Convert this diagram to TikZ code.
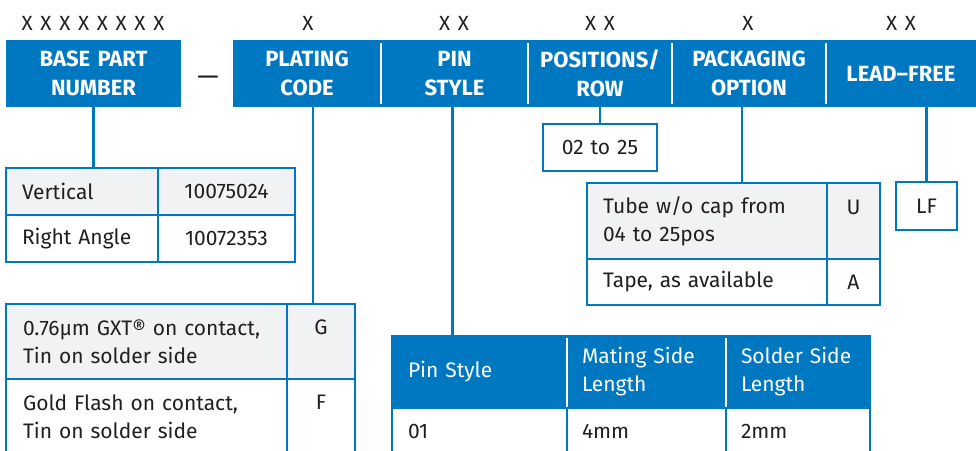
\documentclass[tikz,border=0pt]{standalone}
\usepackage{fontspec}
\setmainfont{Fira Sans}
\definecolor{mblue}{RGB}{0,120,193}
\definecolor{mgray}{RGB}{241,242,244}
\definecolor{mtext}{RGB}{35,31,32}
% #1 style, #2 name, #3 x1, #4 y1, #5 x2, #6 y2, #7 pad, #8 text
\newcommand\mkcell[8]{%
  \pgfmathsetmacro\mkcw{#5-#3}\pgfmathsetmacro\mkch{#6-#4}\pgfmathsetmacro\mktw{#5-#3-2*#7}%
  \node[#1, minimum width=\mkcw pt, minimum height=\mkch pt, text width=\mktw pt,
        inner xsep=#7pt, inner ysep=0pt, outer sep=0pt, anchor=center]
        (#2) at ({(#3+#5)/2},{(#4+#6)/2}) {#8};}
\def\sx{\hspace{2.3pt} }
\begin{document}
\begin{tikzpicture}[x=1pt,y=-1pt,
  hdr/.style={fill=mblue, text=white, font=\fontsize{22}{29}\selectfont\bfseries, align=center},
  bodyl/.style={draw=mblue, line width=2.5pt, text=mtext, font=\fontsize{21}{28}\selectfont, align=left},
  bodyc/.style={bodyl, align=center},
  grayl/.style={bodyl, fill=mgray},
  grayc/.style={bodyc, fill=mgray},
  thead/.style={draw=mblue, line width=2.5pt, fill=mblue, text=white, font=\fontsize{21}{28}\selectfont, align=left},
  xlab/.style={text=mtext, font=\fontsize{20.5}{24}\selectfont, inner sep=0pt},
  conn/.style={draw=mblue, line width=2.5pt},
  wsep/.style={draw=white, line width=2.5pt},
]
\clip (0,0) rectangle (976,450);
\fill[white] (0,0) rectangle (976,450);

% code labels
\node[xlab] (x1) at (93,23) {X\sx X\sx X\sx X\sx X\sx X\sx X\sx X};
\node[xlab] (x2) at (308,23) {X};
\node[xlab] (x3) at (454,23) {X\sx X};
\node[xlab] (x4) at (600,23) {X\sx X};
\node[xlab] (x5) at (748,23) {X};
\node[xlab] (x6) at (901,23) {X\sx X};

% header bar
\mkcell{hdr}{base}{6}{40}{181}{107}{0}{BASE PART\\NUMBER}
\node[text=mtext, font=\fontsize{27}{27}\selectfont, inner sep=0pt] (dash) at (208,80.5) {—};
\mkcell{hdr}{plating}{233}{40}{381}{107}{0}{PLATING\\CODE}
\mkcell{hdr}{pin}{381}{40}{528}{107}{0}{PIN\\STYLE}
\mkcell{hdr}{pos}{528}{40}{672}{107}{0}{POSITIONS/\\ROW}
\mkcell{hdr}{pack}{672}{40}{826}{107}{0}{PACKAGING\\OPTION}
\mkcell{hdr}{lead}{826}{40}{976}{107}{0}{LEAD–FREE}
\foreach \n in {plating,pin,pos,pack}
  \draw[wsep] ([yshift=-3pt]\n.north east) -- ([yshift=3pt]\n.south east);

% base part number table
\mkcell{grayl}{tv}{6}{168}{158}{215}{16}{Vertical}
\mkcell{grayc}{tvn}{158}{168}{295}{215}{0}{10075024}
\mkcell{bodyl}{tr}{6}{215}{158}{262}{16}{Right Angle}
\mkcell{bodyc}{trn}{158}{215}{295}{262}{0}{10072353}

% plating table
\mkcell{grayl}{pg}{6}{304}{287}{379}{17}{0.76µm GXT® on contact,\\Tin on solder side}
\mkcell{grayc}{pgc}{287}{304}{355}{379}{0}{G\\\mbox{}}
\mkcell{bodyl}{pf}{6}{379}{287}{454}{17}{Gold Flash on contact,\\Tin on solder side}
\mkcell{bodyc}{pfc}{287}{379}{355}{454}{0}{F\\\mbox{}}

% positions box
\mkcell{bodyc}{range}{543}{124}{657}{171}{0}{02 to 25}

% packaging table
\mkcell{grayl}{tube}{587}{183}{827}{259}{16}{Tube w/o cap from\\04 to 25pos}
\mkcell{grayc}{tubec}{827}{183}{880}{259}{0}{U\\\mbox{}}
\mkcell{bodyl}{tape}{587}{259}{827}{305}{16}{Tape, as available}
\mkcell{bodyc}{tapec}{827}{259}{880}{305}{0}{A}

% lead-free box
\mkcell{bodyc}{lfbox}{896}{182}{957}{230}{0}{LF}

% pin style table
\mkcell{thead}{ph1}{392}{336}{567}{408}{16}{Pin Style}
\mkcell{thead}{ph2}{567}{336}{726}{408}{15}{Mating Side\\Length}
\mkcell{thead}{ph3}{726}{336}{870}{408}{15}{Solder Side\\Length}
\draw[wsep] ([yshift=-1.5pt]ph1.north east) -- ([yshift=1.5pt]ph1.south east);
\draw[wsep] ([yshift=-1.5pt]ph2.north east) -- ([yshift=1.5pt]ph2.south east);
\mkcell{bodyl}{pr1}{392}{408}{567}{454}{16}{01}
\mkcell{bodyl}{pr2}{567}{408}{726}{454}{15}{4mm}
\mkcell{bodyl}{pr3}{726}{408}{870}{454}{15}{2mm}

% connectors
\draw[conn] (base.south) -- (base.south |- tv.north);
\draw[conn] ([xshift=6pt]plating.south) -- ([xshift=6pt]plating.south |- pgc.north);
\draw[conn] ([xshift=-2pt]pin.south) -- ([xshift=-2pt]pin.south |- ph1.north);
\draw[conn] (pos.south) -- (pos.south |- range.north);
\draw[conn] ([xshift=-7pt]pack.south) -- ([xshift=-7pt]pack.south |- tube.north);
\draw[conn] (lfbox.north |- lead.south) -- (lfbox.north);
\end{tikzpicture}
\end{document}
